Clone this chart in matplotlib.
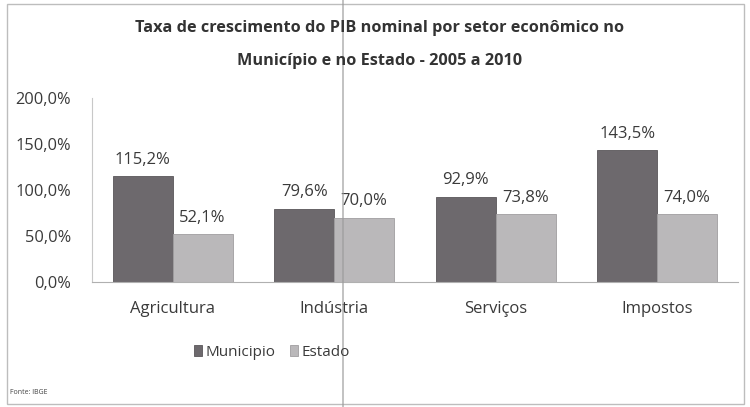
import numpy as np
import matplotlib.pyplot as plt
from matplotlib.patches import Rectangle
from matplotlib.lines import Line2D

categorias = ['Agricultura', 'Indústria', 'Serviços', 'Impostos']
municipio = [115.2, 79.6, 92.9, 143.5]
estado = [52.1, 70.0, 73.8, 74.0]
yticks = [0, 50, 100, 150, 200]

plt.rcParams['font.family'] = ['Open Sans', 'DejaVu Sans']

W, H = 750, 407
fig = plt.figure(figsize=(W / 100, H / 100), dpi=100)
fig.patch.set_facecolor('white')

# axes in pixel terms: left 92, right 738, y0 at 282, 200% at 98
ax = fig.add_axes([92 / W, 1 - 282 / H, (738 - 92) / W, (282 - 98) / H])
x = np.arange(len(categorias))
bw = 0.37
c_mun = '#6d696d'
c_est = '#bab8ba'
b1 = ax.bar(x - bw / 2, municipio, bw, color=c_mun, edgecolor='#5a565a', linewidth=0.6, label='Municipio')
b2 = ax.bar(x + bw / 2, estado, bw, color=c_est, edgecolor='#a09ea0', linewidth=0.6, label='Estado')

for rects, vals in ((b1, municipio), (b2, estado)):
    for r, v in zip(rects, vals):
        ax.text(r.get_x() + r.get_width() / 2, v + 9, f'{v:.1f}%'.replace('.', ','),
                ha='center', va='bottom', fontsize=12, color='#3a3a3a')

ax.set_xlim(-0.5, len(categorias) - 0.5)
ax.set_ylim(0, 200)
ax.set_yticks(yticks)
ax.set_yticklabels([f'{v:.1f}%'.replace('.', ',') for v in yticks], fontsize=11.8, color='#3a3a3a')
ax.set_xticks(x)
ax.set_xticklabels(categorias, fontsize=12, color='#3a3a3a')
ax.tick_params(axis='x', length=0, pad=14)
ax.tick_params(axis='y', length=0, pad=15)
for s in ['top', 'right']:
    ax.spines[s].set_visible(False)
ax.spines['left'].set_color('#c8c8c8')
ax.spines['bottom'].set_color('#b0b0b0')

fig.text(380 / W, 1 - 28 / H, 'Taxa de crescimento do PIB nominal por setor econômico no',
         ha='center', va='center', fontsize=11.7, fontweight='bold', color='#333333')
fig.text(380 / W, 1 - 61 / H, 'Município e no Estado - 2005 a 2010',
         ha='center', va='center', fontsize=11.7, fontweight='bold', color='#333333')

leg = fig.legend(handles=[b1, b2], loc='center', bbox_to_anchor=(272 / W, 1 - 352 / H), ncol=2,
                 frameon=False, fontsize=11, handlelength=0.55, handleheight=0.7,
                 handletextpad=0.25, columnspacing=0.9)
for t in leg.get_texts():
    t.set_color('#3a3a3a')

fig.text(10 / W, 1 - 392 / H, 'Fonte: IBGE', ha='left', va='center', fontsize=5, color='#444444')

# chart border and scan fold line
fig.add_artist(Rectangle((7 / W, 1 - 404 / H), 737 / W, 400 / H, transform=fig.transFigure,
                         fill=False, edgecolor='#bdbdbd', linewidth=1))
fig.add_artist(Line2D([343 / W, 343 / W], [0, 1], transform=fig.transFigure,
                      color='#9a9a9a', linewidth=1.2, alpha=0.7))

fig.savefig('out.png', dpi=100)
